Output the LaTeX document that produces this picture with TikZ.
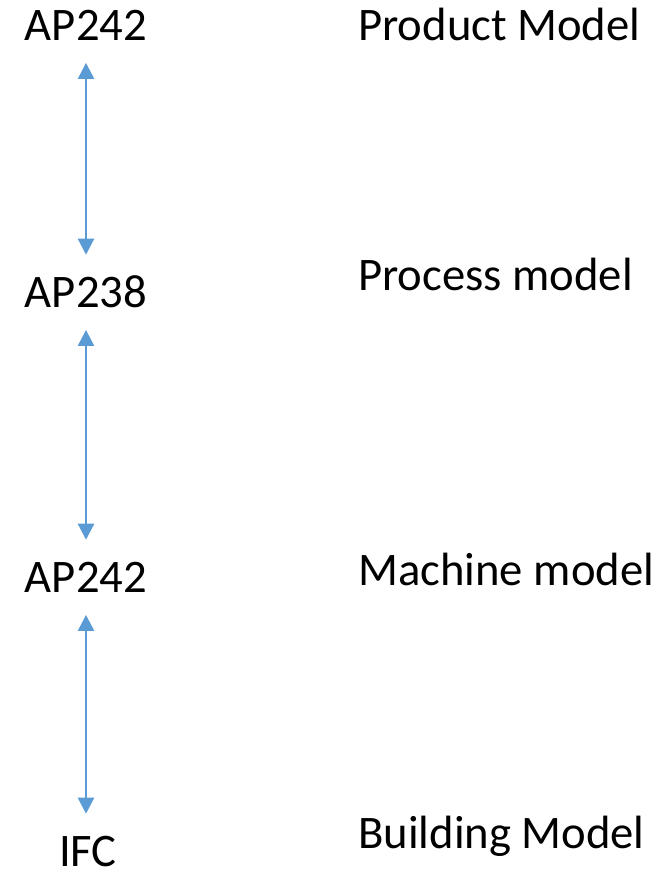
\documentclass[tikz,border=0pt]{standalone}
\usepackage{fontspec}
\setmainfont{Carlito}
\usetikzlibrary{arrows.meta}
\definecolor{linkblue}{HTML}{5B9BD5}
\tikzset{
	stdname/.style={anchor=base,inner sep=0pt,text height=22pt,text depth=0pt,font=\fontsize{35}{42}\selectfont},
	modelname/.style={anchor=base west,inner sep=0pt,font=\fontsize{35}{42}\selectfont},
	link/.style={linkblue,line width=1.7pt,{Triangle[length=12pt,width=12pt]}-{Triangle[length=12pt,width=12pt]},shorten <=17pt,shorten >=17pt}
}
\begin{document}
\begin{tikzpicture}[x=0.75pt,y=-0.75pt]
	\useasboundingbox (0,0) rectangle (666,878);
	% Product
	\node[stdname] (ap1) at (86,40) {AP242};
	\node[modelname] (product) at (358,40) {Product Model};
	% Process
	\node[stdname] (ap2) at (86,307) {AP238};
	\node[modelname] (process) at (358,290) {Process model};
	% Machine
	\node[stdname] (ap3) at (86,592) {AP242};
	\node[modelname] (machine) at (358,585) {Machine model};
	% Building
	\node[stdname] (ifc) at (88,866) {IFC};
	\node[modelname] (building) at (358,848) {Building Model};
	% links
	\draw[link] (ap1.south) -- (ap2.north);
	\draw[link] (ap2.south) -- (ap3.north);
	\draw[link] (ap3.south) -- (ifc.north-|ap3.south);
\end{tikzpicture}
\end{document}
